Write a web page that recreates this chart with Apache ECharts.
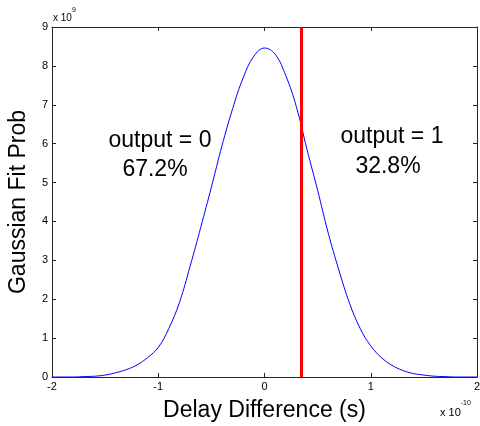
<!DOCTYPE html>
<html>
<head>
<meta charset="utf-8">
<script src="https://cdn.jsdelivr.net/npm/echarts@6/dist/echarts.min.js"></script>
<style>
html, body { margin: 0; padding: 0; background: #fff; }
#container { width: 480px; height: 426px; }
</style>
</head>
<body>
<div id="container"></div>
<script type="text/javascript">
// delay difference, units of 1e-10 s
var delays = [-2.0, -1.9, -1.8, -1.7, -1.6, -1.5, -1.4, -1.3, -1.2, -1.1,
              -1.0, -0.9, -0.8, -0.7, -0.6, -0.5, -0.4, -0.3, -0.2, -0.1,
               0.0,  0.1,  0.2,  0.3,  0.4,  0.5,  0.6,  0.7,  0.8,  0.9,
               1.0,  1.1,  1.2,  1.3,  1.4,  1.5,  1.6,  1.7,  1.8,  1.9, 2.0];
// gaussian fit prob, units of 1e9
var probs = [0.00, 0.00, 0.00, 0.01, 0.02, 0.05, 0.11, 0.19, 0.31, 0.50,
             0.76, 1.25, 1.92, 2.85, 3.85, 4.88, 5.95, 6.90, 7.70, 8.25,
             8.46, 8.30, 7.75, 6.95, 5.85, 4.80, 3.70, 2.75, 1.90, 1.25,
             0.80, 0.50, 0.30, 0.17, 0.09, 0.05, 0.02, 0.01, 0.00, 0.00, 0.00];
var threshold = 0.35;
var xTicks = [-2, -1, 0, 1, 2];
var yTicks = [0, 1, 2, 3, 4, 5, 6, 7, 8, 9];

var dom = document.getElementById("container");
var myChart = echarts.init(dom, null, {renderer: 'canvas'});
var font = 'Liberation Sans, Arial, sans-serif';
var axisCol = '#262626';

var points = [];
for (var i = 0; i < delays.length; i++) {
    points.push([delays[i], probs[i]]);
}

function boxAxis(pos, show) {
    return {
        type: 'value',
        position: pos,
        axisLine: {show: true, onZero: false, lineStyle: {color: axisCol, width: 1}},
        axisTick: {show: true, inside: true, length: 4, lineStyle: {color: axisCol}},
        axisLabel: {show: show, color: '#000', fontFamily: font, fontSize: 11},
        splitLine: {show: false}
    };
}

var xBottom = boxAxis('bottom', true);
xBottom.min = xTicks[0]; xBottom.max = xTicks[xTicks.length - 1]; xBottom.interval = 1;
xBottom.axisLabel.margin = 4;
xBottom.name = 'Delay Difference (s)';
xBottom.nameLocation = 'middle';
xBottom.nameGap = 22;
xBottom.nameTextStyle = {fontFamily: font, fontSize: 23, color: '#000'};
var xTop = boxAxis('top', false);
xTop.min = xTicks[0]; xTop.max = xTicks[xTicks.length - 1]; xTop.interval = 1;

var yLeft = boxAxis('left', true);
yLeft.min = yTicks[0]; yLeft.max = yTicks[yTicks.length - 1]; yLeft.interval = 1;
yLeft.axisLabel.margin = 4;
yLeft.name = 'Gaussian Fit Prob';
yLeft.nameLocation = 'middle';
yLeft.nameGap = 22;
yLeft.nameTextStyle = {fontFamily: font, fontSize: 23, color: '#000'};
var yRight = boxAxis('right', false);
yRight.min = yTicks[0]; yRight.max = yTicks[yTicks.length - 1]; yRight.interval = 1;

option = {
    backgroundColor: '#fff',
    animation: false,
    grid: {left: 52, right: 3, top: 27, bottom: 49, containLabel: false, outerBoundsMode: 'none'},
    xAxis: [xBottom, xTop],
    yAxis: [yLeft, yRight],
    series: [
        {
            type: 'line',
            data: points,
            smooth: 0.4,
            symbol: 'none',
            lineStyle: {color: '#0000ff', width: 1},
            z: 2,
            markLine: {
                silent: true,
                symbol: 'none',
                label: {show: false},
                lineStyle: {color: '#ff0000', width: 3, type: 'solid'},
                data: [{xAxis: threshold}],
                z: 3
            }
        }
    ],
    graphic: [
        {type: 'text', left: 53, top: 7, style: {
            text: '{b|x 10}{s|9}', fill: '#000',
            rich: {b: {fontFamily: font, fontSize: 10, padding: [6, 0, 0, 0]}, s: {fontFamily: font, fontSize: 7, verticalAlign: 'top'}}
        }},
        {type: 'text', left: 440, top: 400, style: {
            text: '{b|x 10}{s|-10}', fill: '#000',
            rich: {b: {fontFamily: font, fontSize: 11, padding: [7, 0, 0, 0]}, s: {fontFamily: font, fontSize: 7, verticalAlign: 'top'}}
        }},
        {type: 'text', x: 160, y: 141, style: {
            text: 'output = 0', fill: '#000', fontFamily: font, fontSize: 23, align: 'center', verticalAlign: 'middle'
        }},
        {type: 'text', x: 155, y: 170, style: {
            text: '67.2%', fill: '#000', fontFamily: font, fontSize: 23, align: 'center', verticalAlign: 'middle'
        }},
        {type: 'text', x: 392, y: 137, style: {
            text: 'output = 1', fill: '#000', fontFamily: font, fontSize: 23, align: 'center', verticalAlign: 'middle'
        }},
        {type: 'text', x: 388, y: 167, style: {
            text: '32.8%', fill: '#000', fontFamily: font, fontSize: 23, align: 'center', verticalAlign: 'middle'
        }}
    ]
};

if (option && typeof option === "object") {
    myChart.setOption(option, true);
}
</script>
</body>
</html>
